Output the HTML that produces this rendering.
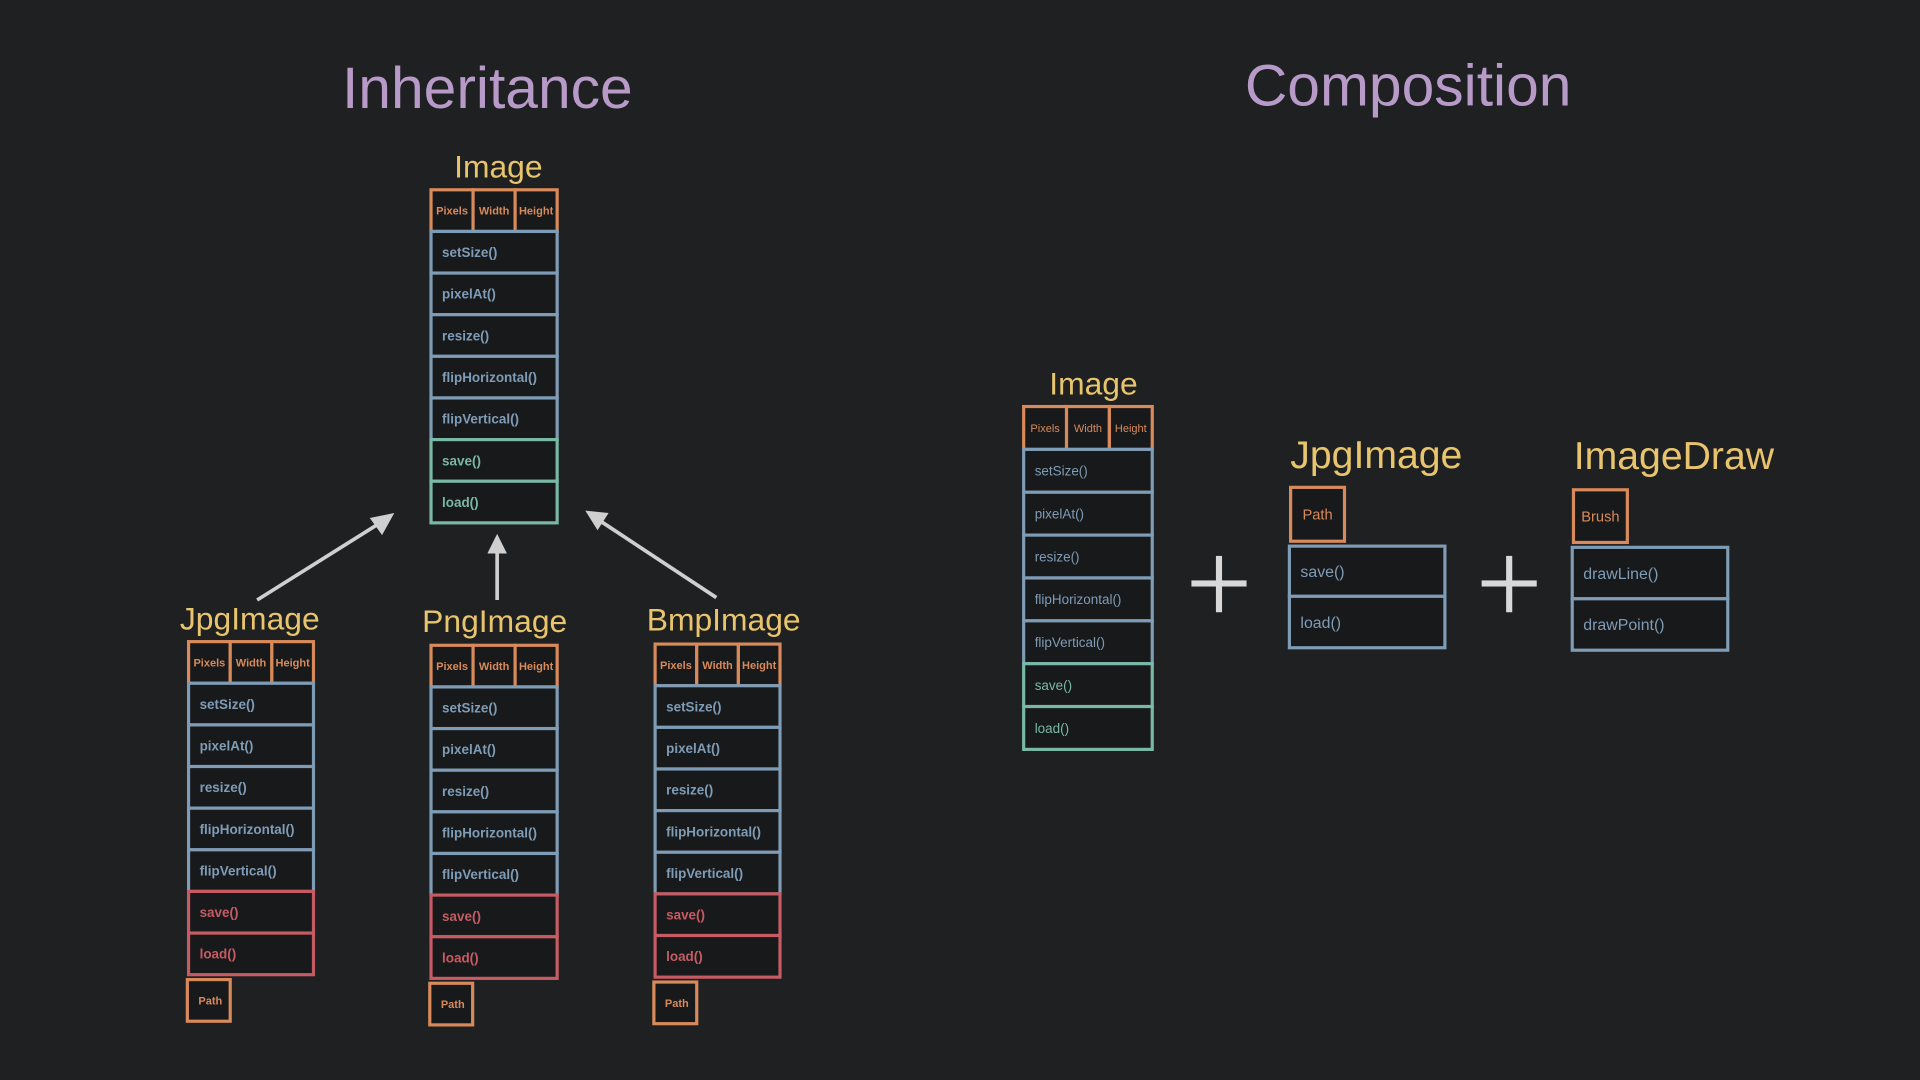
<!DOCTYPE html>
<html><head><meta charset="utf-8"><style>
html,body{margin:0;padding:0;background:#1f2022;width:1920px;height:1080px;overflow:hidden}
svg{display:block}
text{font-family:"Liberation Sans",sans-serif}
</style></head><body>
<svg id="s" width="1920" height="1080" viewBox="0 0 1568 882">
<rect width="1568" height="882" fill="#1f2022"/>
<text x="398" y="88" text-anchor="middle" font-size="48" fill="#b79ac8">Inheritance</text>
<text x="1150" y="86" text-anchor="middle" font-size="48" fill="#b79ac8">Composition</text>
<g stroke="#cfcfcf" stroke-width="3" fill="#cfcfcf">
<line x1="210" y1="490" x2="312" y2="426"/><polygon points="322,419 302,423 312,437" stroke="none"/>
<line x1="406" y1="490" x2="406" y2="448"/><polygon points="406,436 398,452 414,452" stroke="none"/>
<line x1="585" y1="488" x2="488" y2="424"/><polygon points="478,417 488,433 497,419" stroke="none"/>
</g>
<g fill="#d8d8d8">
<rect x="973" y="474" width="45" height="5"/><rect x="993" y="454" width="5" height="46"/>
<rect x="1210" y="474" width="45" height="5"/><rect x="1230" y="454" width="5" height="46"/>
</g>
<g id="g"></g>
</svg>
<script>
const OR="#d98a5a",BL="#7f9cb6",RD="#c65b63",GR="#79b8a5",YL="#e8c46c";
const NS="http://www.w3.org/2000/svg";
const g=document.getElementById('g');
function el(t,a){const e=document.createElementNS(NS,t);for(const k in a)e.setAttribute(k,a[k]);g.appendChild(e);return e;}
function box(x,y,w,h,c,label,fs,bold,center){
  const r=el('rect',{x:x,y:y,width:w,height:h,fill:'#18191b',stroke:c,'stroke-width':2.6});
  
  
  const t=el('text',{x:center?x+w/2:x+9,y:y+h/2+fs*0.36,'font-size':fs,fill:c,'text-anchor':center?'middle':'start','font-weight':bold?'bold':'normal'});
  t.textContent=label;
  
  
}
function title(x,y,s,fs){const t=el('text',{x:x,y:y,'font-size':fs,fill:YL,'text-anchor':'middle'});t.textContent=s;
  
  }
const methods=["setSize()","pixelAt()","resize()","flipHorizontal()","flipVertical()","save()","load()"];
function cls(name,cx,ty,x,w,hy,row,col2,path,bold,fs){
  title(cx,ty,name,26);
  const cw=w/3;["Pixels","Width","Height"].forEach((l,i)=>box(x+i*cw,hy,cw,row,OR,l,9,bold,true));
  methods.forEach((m,i)=>box(x,hy+row*(i+1),w,row,i<5?BL:col2,m,fs,bold,false));
  if(path)box(x-1,hy+row*8+4,35,34,OR,"Path",9,bold,false);
}
cls("Image",407,145,352,103,155,34,GR,false,true,11);
cls("JpgImage",204,514,154,102,524,34,RD,true,true,11);
cls("PngImage",404,516,352,103,527,34,RD,true,true,11);
cls("BmpImage",591,515,535,102,526,34,RD,true,true,11);
cls("Image",893,322,836,105,332,35,GR,false,false,11);
title(1124,382,"JpgImage",32);
box(1054,398,44,44,OR,"Path",12,false,true);
box(1053,446,127,41,BL,"save()",13,false,false);
box(1053,487,127,42,BL,"load()",13,false,false);
title(1367,383,"ImageDraw",32);
box(1285,400,44,43,OR,"Brush",12,false,true);
box(1284,447,127,42,BL,"drawLine()",13,false,false);
box(1284,489,127,42,BL,"drawPoint()",13,false,false);
</script>
</body></html>
